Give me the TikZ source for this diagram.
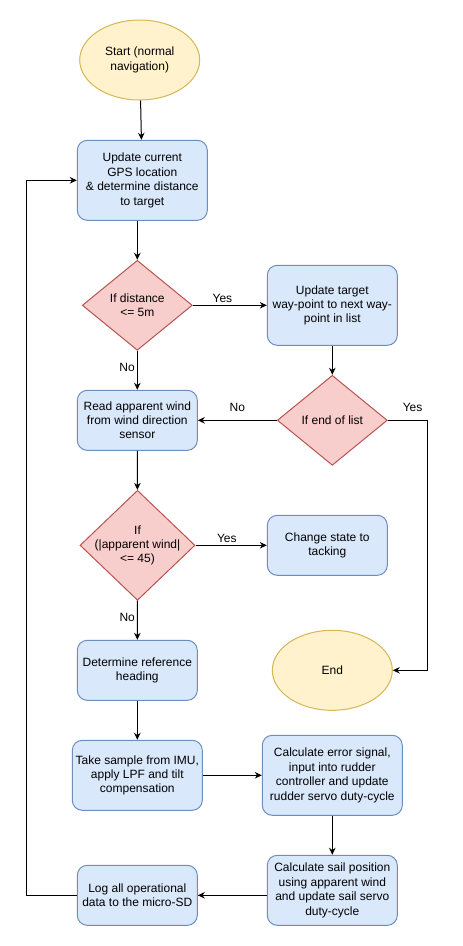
\documentclass[tikz,border=0pt]{standalone}
\usepackage{fontspec}
\setmainfont{Liberation Sans}
\usetikzlibrary{shapes.geometric,arrows.meta}
\definecolor{procfill}{HTML}{DAE8FC}
\definecolor{procline}{HTML}{6C8EBF}
\definecolor{decfill}{HTML}{F8CECC}
\definecolor{decline}{HTML}{B85450}
\definecolor{termfill}{HTML}{FFF2CC}
\definecolor{termline}{HTML}{D6B656}
\begin{document}
\begin{tikzpicture}[x=1pt, y=-1pt, line width=1pt,
  every node/.style={font=\fontsize{12}{14.4}\selectfont, align=center},
  proc/.style={draw=procline, fill=procfill, rounded corners=10pt, minimum width=120pt, minimum height=60pt, inner sep=0pt},
  decision/.style={draw=decline, fill=decfill, diamond, minimum width=110pt, minimum height=90pt, inner sep=0pt},
  term/.style={draw=termline, fill=termfill, ellipse, minimum width=120pt, minimum height=80pt, inner sep=0pt},
  lbl/.style={inner sep=2pt},
  flow/.style={->, >={Stealth[length=7pt, width=6.5pt]}}]

\useasboundingbox (0,0) rectangle (463,946);

\node[term] (start) at (139.7,60) {Start (normal\\navigation)};
\node[proc, minimum width=130pt, minimum height=80pt] (gps) at (142.3,180.3) {Update current\\GPS location\\\& determine distance\\to target};
\node[decision] (dist) at (137.3,305.3) {If distance\\<= 5m};
\node[proc, minimum width=130pt, minimum height=80pt] (target) at (332.3,305.3) {Update target\\way-point to next way-\\point in list};
\node[decision] (listend) at (332.3,420.3) {If end of list};
\node[proc] (wind) at (137.3,420.3) {Read apparent wind\\from wind direction\\sensor};
\node[decision, minimum width=115pt, minimum height=110pt,
  label={[align=center]center:If\\(|apparent wind|\\<= 45)}] (windchk) at (137.5,545.3) {};
\node[proc] (tack) at (327.3,545.3) {Change state to\\tacking};
\node[proc] (heading) at (137.3,670.3) {Determine reference\\heading};
\node[term] (fin) at (332.3,670.3) {End};
\node[proc, minimum width=130pt, minimum height=70pt] (imu) at (137.3,775.3) {Take sample from IMU,\\apply LPF and tilt\\compensation};
\node[proc, minimum width=140pt, minimum height=80pt] (rudder) at (332.3,775.3) {Calculate error signal,\\input into rudder\\controller and update\\rudder servo duty-cycle};
\node[proc, minimum width=130pt, minimum height=70pt] (sail) at (332.3,890.3) {Calculate sail position\\using apparent wind\\and update sail servo\\duty-cycle};
\node[proc] (log) at (137.3,895.3) {Log all operational\\data to the micro-SD};

\begin{scope}[flow]
\draw (start) -- (gps);
\draw (gps.south -| dist.north) -- (dist.north);
\draw (dist) -- node[lbl, pos=0.4, above] {Yes} (target);
\draw (dist) -- node[lbl, pos=0.42, left] {No} (wind);
\draw (target) -- (listend);
\draw (listend) -- node[lbl, midway, above=6pt] {No} (wind);
\draw (listend.east) -- node[lbl, pos=0.62, above=6pt] {Yes} ++(40,0) |- (fin.east);
\draw (wind) -- (windchk);
\draw (windchk) -- node[lbl, pos=0.44, above] {Yes} (tack);
\draw (windchk) -- node[lbl, pos=0.42, left] {No} (heading);
\draw (heading) -- (imu);
\draw (imu) -- (rudder);
\draw (rudder) -- (sail);
\draw (sail.west |- log) -- (log.east);
\draw (log.west) -- ++(-50,0) |- (gps.west);
\end{scope}

\end{tikzpicture}
\end{document}
